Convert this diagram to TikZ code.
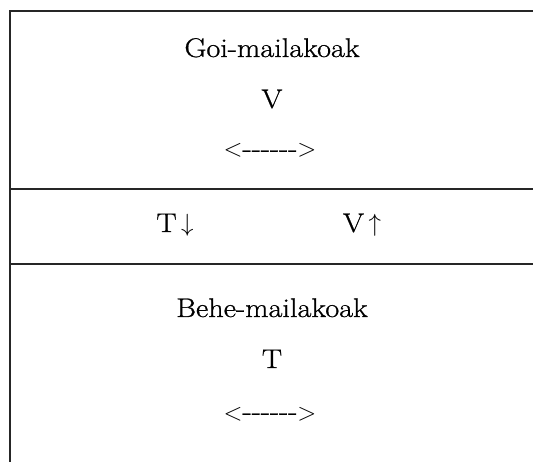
\documentclass[tikz,border=0pt]{standalone}
\usepackage{fontspec}
\setmainfont{Latin Modern Roman}[FakeStretch=1.12,FakeBold=0.8]
\newcommand{\bigang}[1]{{\fontsize{31}{36}\selectfont$#1$}}
\begin{document}
\begin{tikzpicture}[x=1pt,y=-1pt,
  rule/.style={line width=1.1pt,draw=black!85},
  lbl/.style={inner sep=0pt,font=\fontsize{27}{32}\selectfont,anchor=base}]
\useasboundingbox (0,0) rectangle (533,462);
\fill[white] (0,0) rectangle (533,462);
\draw[rule] (10,462) -- (10,11) -- (533,11);
\draw[rule] (10,189) -- (533,189);
\draw[rule] (10,264) -- (533,264);
\node[lbl] (goi) at (272,57) {Goi-mailakoak};
\node[lbl] (gv) at (272,108) {V};
\node[lbl] (garr) at (270,157) {\bigang{<}-{}-{}-{}-{}-{}-\bigang{>}};
\node[lbl] (td) at (175,232) {T\,$\downarrow$};
\node[lbl] (vu) at (362,232) {V\,$\uparrow$};
\node[lbl] (behe) at (272,317) {Behe-mailakoak};
\node[lbl] (bt) at (272,368) {T};
\node[lbl] (barr) at (270,420) {\bigang{<}-{}-{}-{}-{}-{}-\bigang{>}};
\end{tikzpicture}
\end{document}
